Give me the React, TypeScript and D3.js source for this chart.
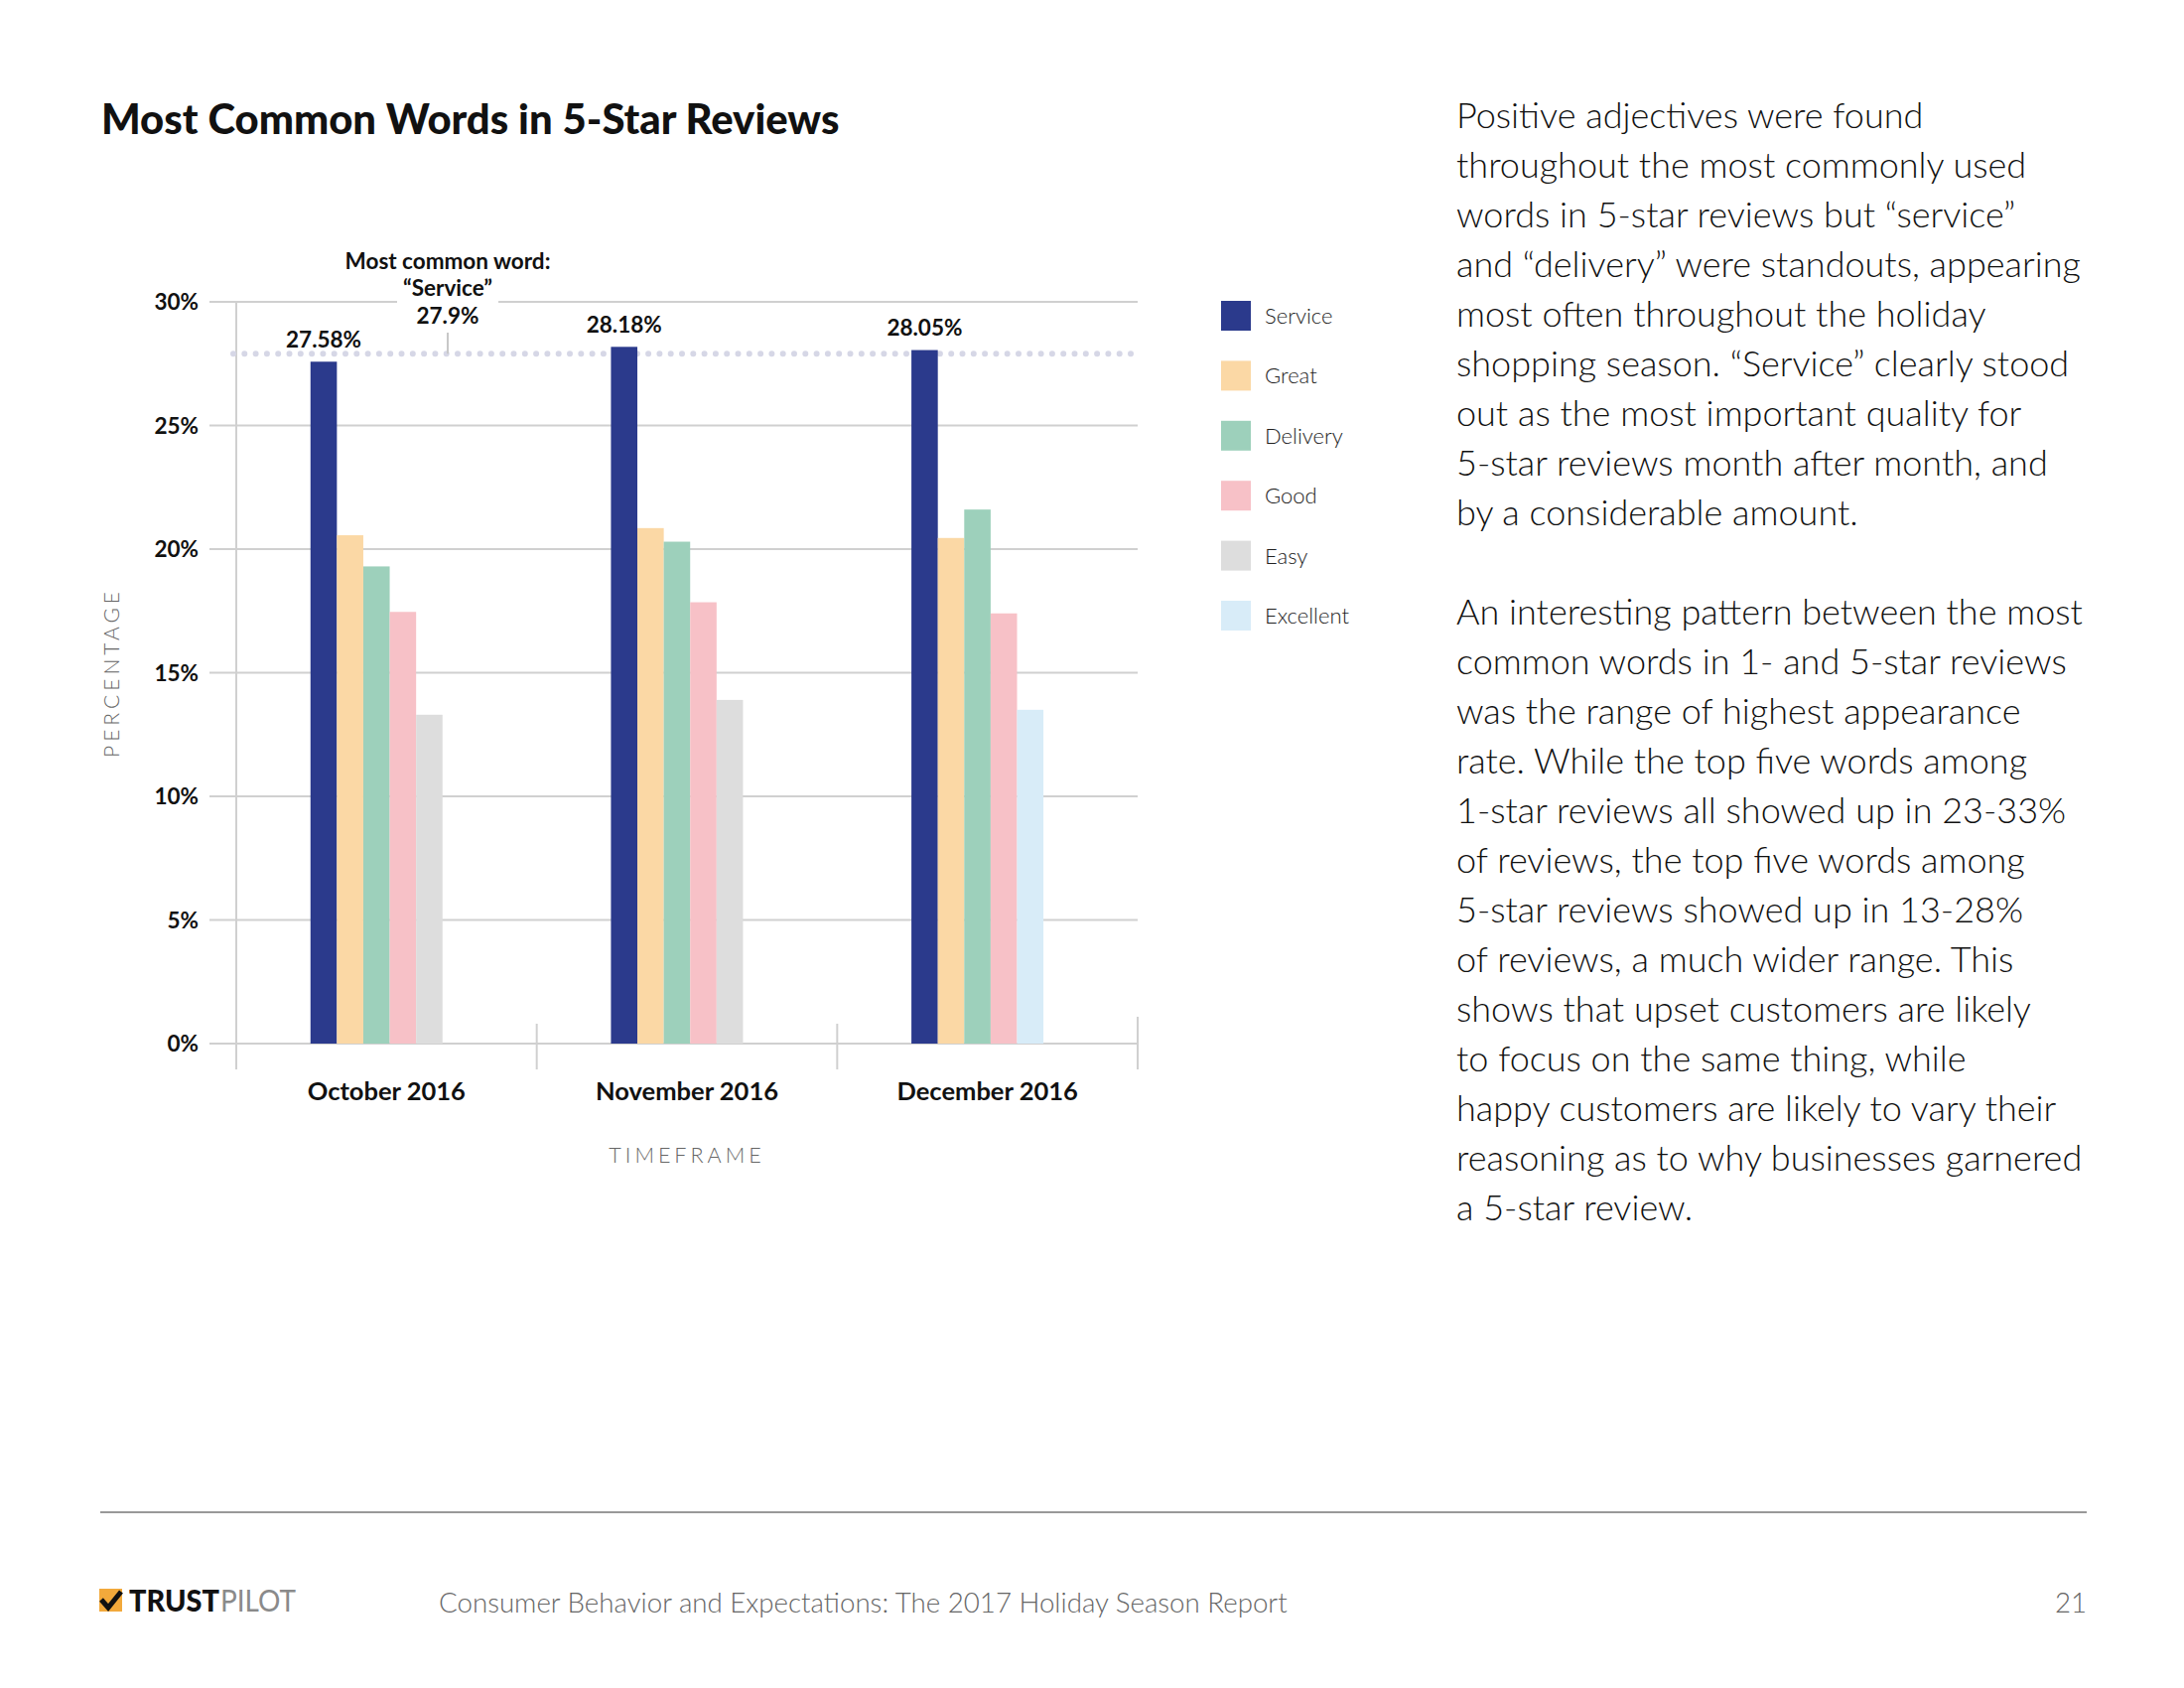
import React from "react";
import * as d3 from "d3";

const categories = ["October 2016", "November 2016", "December 2016"];
const seriesNames = ["Service", "Great", "Delivery", "Good", "Easy", "Excellent"];
const seriesColors = ["#2b3a8c", "#fbd8a5", "#9dd0bb", "#f7c1c7", "#dddddd", "#d8ecf8"];
const serviceValues = [27.58, 28.18, 28.05];
const greatValues = [20.56, 20.85, 20.45];
const deliveryValues = [19.3, 20.3, 21.6];
const goodValues = [17.46, 17.85, 17.4];
const easyValues: (number | null)[] = [13.3, 13.9, null];
const excellentValues: (number | null)[] = [null, null, 13.5];
const yTicks = [0, 5, 10, 15, 20, 25, 30];
const mostCommonValue = 27.9;
const valueLabels = ["27.58%", "28.18%", "28.05%"];

const paragraph1 = [
  "Positive adjectives were found",
  "throughout the most commonly used",
  "words in 5-star reviews but \u201Cservice\u201D",
  "and \u201Cdelivery\u201D were standouts, appearing",
  "most often throughout the holiday",
  "shopping season. \u201CService\u201D clearly stood",
  "out as the most important quality for",
  "5-star reviews month after month, and",
  "by a considerable amount.",
];
const paragraph2 = [
  "An interesting pattern between the most",
  "common words in 1- and 5-star reviews",
  "was the range of highest appearance",
  "rate. While the top five words among",
  "1-star reviews all showed up in 23-33%",
  "of reviews, the top five words among",
  "5-star reviews showed up in 13-28%",
  "of reviews, a much wider range. This",
  "shows that upset customers are likely",
  "to focus on the same thing, while",
  "happy customers are likely to vary their",
  "reasoning as to why businesses garnered",
  "a 5-star review.",
];

const allSeries = [serviceValues, greatValues, deliveryValues, goodValues, easyValues, excellentValues];

const FONT = "Lato, 'Open Sans', sans-serif";
const LIGHT = "'Lato Light', Lato, 'Open Sans', sans-serif";

export default function App() {
  const W = 2200, H = 1700;
  const left = 238, right = 1146, top = 304, bottom = 1051;
  const y = d3.scaleLinear().domain([0, 30]).range([bottom, top]);
  const x0 = d3.scaleBand<string>().domain(categories).range([left, right]).padding(0);
  const bw = x0.bandwidth();
  const barW = 26.6;
  const innerStart = 0.247 * bw;

  const bars: { cat: number; s: number; v: number; slot: number }[] = [];
  categories.forEach((c, ci) => {
    let slot = 0;
    allSeries.forEach((arr, si) => {
      const v = arr[ci];
      if (v !== null && v !== undefined) {
        bars.push({ cat: ci, s: si, v, slot });
        slot++;
      }
    });
  });
  const xi = d3.scaleBand<number>().domain([0, 1, 2, 3, 4]).range([innerStart, innerStart + 5 * barW]).padding(0);

  const annX = 451;
  const lineH = 50.0;
  const boldSize = 22.5;

  return (
    <svg width={W} height={H} viewBox={`0 0 ${W} ${H}`} style={{ display: "block", background: "#fff", margin: -8 }}>
      <rect x={0} y={0} width={W} height={H} fill="#fff" />
      <text x={102} y={135} fontFamily={FONT} fontWeight={900} fontSize={41.8} fill="#111">
        Most Common Words in 5-Star Reviews
      </text>

      {/* gridlines */}
      {yTicks.map((t) => (
        <g key={t}>
          <line x1={211} x2={right} y1={y(t)} y2={y(t)} stroke="#d0d0d0" strokeWidth={2} />
          <text x={200} y={y(t)} dy="0.36em" textAnchor="end" fontFamily={FONT} fontWeight={700} fontSize={boldSize} fill="#111">
            {t}%
          </text>
        </g>
      ))}
      {/* axis + separators */}
      <line x1={left} x2={left} y1={top} y2={1077} stroke="#d0d0d0" strokeWidth={2} />
      {categories.map((c, i) => (
        <line key={c} x1={x0(c)! + bw} x2={x0(c)! + bw} y1={i === 2 ? 1024 : 1031} y2={1077} stroke="#d0d0d0" strokeWidth={2} />
      ))}

      {/* dotted reference line */}
      <line x1={235} x2={right} y1={y(mostCommonValue)} y2={y(mostCommonValue)} stroke="#d6d7e6" strokeWidth={6} strokeLinecap="round" strokeDasharray="0 11.3" />

      {/* bars */}
      {bars.map((b) => (
        <rect
          key={`${b.cat}-${b.s}`}
          x={x0(categories[b.cat])! + xi(b.slot)!}
          y={y(b.v)}
          width={barW}
          height={y(0) - y(b.v)}
          fill={seriesColors[b.s]}
        />
      ))}

      {/* value labels */}
      {categories.map((c, i) => (
        <text key={c} x={x0(c)! + xi(0)! + barW / 2} y={y(serviceValues[i]) - 14.5} textAnchor="middle" fontFamily={FONT} fontWeight={700} fontSize={boldSize} fill="#111">
          {valueLabels[i]}
        </text>
      ))}

      {/* annotation */}
      <rect x={400} y={250} width={102} height={82} fill="#fff" />
      <text x={annX} y={271} textAnchor="middle" fontFamily={FONT} fontWeight={700} fontSize={boldSize} fill="#111">Most common word:</text>
      <text x={annX} y={298} textAnchor="middle" fontFamily={FONT} fontWeight={700} fontSize={boldSize} fill="#111">{"\u201CService\u201D"}</text>
      <text x={annX} y={326} textAnchor="middle" fontFamily={FONT} fontWeight={700} fontSize={boldSize} fill="#111">{mostCommonValue}%</text>
      <line x1={annX} x2={annX} y1={335} y2={y(mostCommonValue)} stroke="#c8c8c8" strokeWidth={2} />

      {/* category labels */}
      {categories.map((c) => (
        <text key={c} x={x0(c)! + bw / 2} y={1108} textAnchor="middle" fontFamily={FONT} fontWeight={700} fontSize={25.5} fill="#111">
          {c}
        </text>
      ))}
      <text x={(left + right) / 2} y={1171} textAnchor="middle" fontFamily={LIGHT} fontWeight={300} fontSize={21.5} letterSpacing={4} fill="#666">
        TIMEFRAME
      </text>
      <text transform={`translate(120,${(top + bottom) / 2}) rotate(-90)`} textAnchor="middle" fontFamily={LIGHT} fontWeight={300} fontSize={21} letterSpacing={4} fill="#666">
        PERCENTAGE
      </text>

      {/* legend */}
      {seriesNames.map((s, i) => (
        <g key={s} transform={`translate(1230,${303 + i * 60.4})`}>
          <rect width={30} height={30} fill={seriesColors[i]} />
          <text x={44} y={23} fontFamily={LIGHT} fontWeight={300} fontSize={22} fill="#222">{s}</text>
        </g>
      ))}

      {/* right text */}
      {paragraph1.map((l, i) => (
        <text key={"p1" + i} x={1467} y={129 + i * lineH} fontFamily={LIGHT} fontWeight={300} fontSize={36} fill="#111">{l}</text>
      ))}
      {paragraph2.map((l, i) => (
        <text key={"p2" + i} x={1467} y={129 + (i + 10) * lineH} fontFamily={LIGHT} fontWeight={300} fontSize={36} fill="#111">{l}</text>
      ))}

      {/* footer */}
      <line x1={101} x2={2102} y1={1523} y2={1523} stroke="#999" strokeWidth={2} />
      <g transform="translate(100,1600)">
        <rect x={0} y={0} width={23} height={23} fill="#f2a93b" />
        <path d="M2 11 L9 19 L22 3" fill="none" stroke="#111" strokeWidth={5} />
      </g>
      <text x={130} y={1623} fontFamily={FONT} fontWeight={900} fontSize={30} fill="#111" textLength={91} lengthAdjust="spacingAndGlyphs">
        TRUST
      </text>
      <text x={222} y={1623} fontFamily={FONT} fontWeight={400} fontSize={30} fill="#8a8a8a" textLength={76} lengthAdjust="spacingAndGlyphs">
        PILOT
      </text>
      <text x={442} y={1624} fontFamily={LIGHT} fontWeight={300} fontSize={27.7} fill="#666">
        Consumer Behavior and Expectations: The 2017 Holiday Season Report
      </text>
      <text x={2102} y={1624} textAnchor="end" fontFamily={LIGHT} fontWeight={300} fontSize={27.7} fill="#666">21</text>
    </svg>
  );
}
